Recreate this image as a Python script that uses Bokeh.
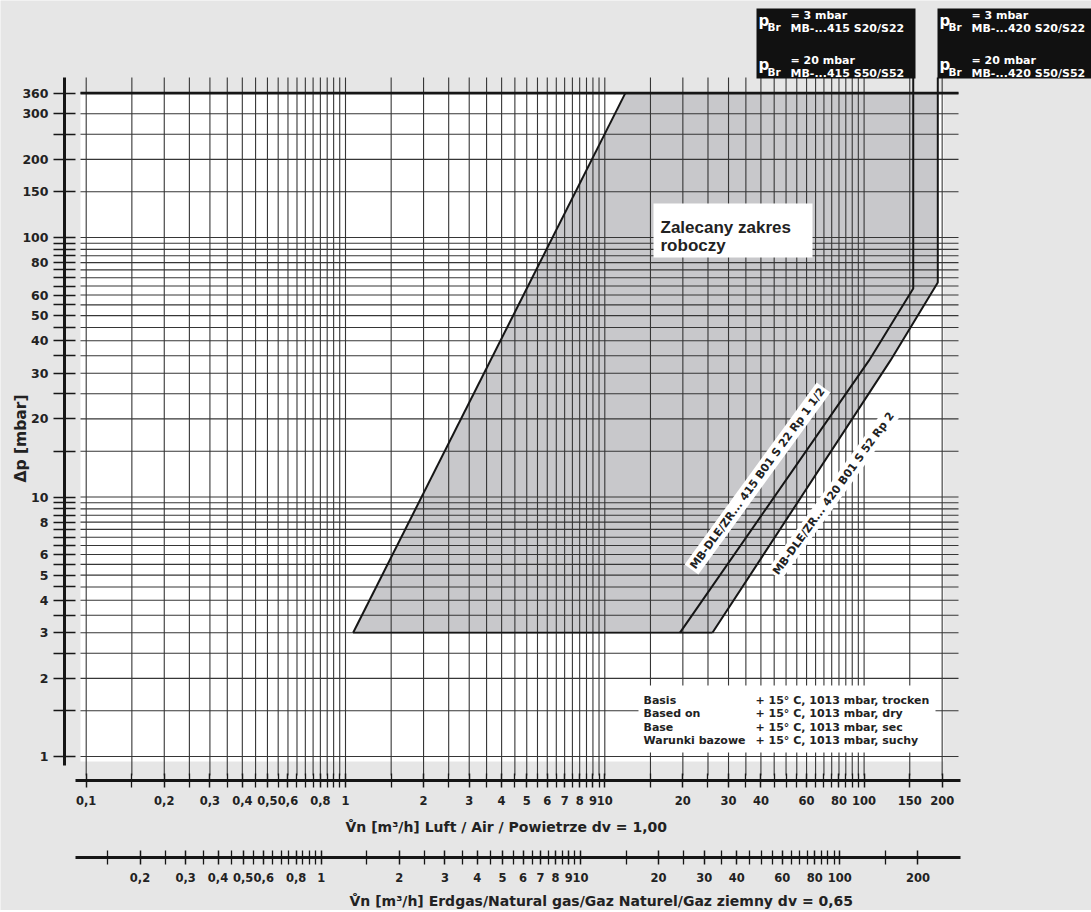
import math
from bokeh.plotting import figure
from bokeh.models import (LogAxis, FixedTicker, CustomJSTickFormatter, Range1d,
                          LogScale, Label, BoxAnnotation, ColumnDataSource)
from bokeh.embed import file_html
from bokeh.resources import INLINE

# ---------------- data ----------------
# flow axis, air (m3/h): labelled ticks and unlabelled ticks / grid lines
x_ticks_labeled = [0.1, 0.2, 0.3, 0.4, 0.5, 0.6, 0.8, 1, 2, 3, 4, 5, 6, 7, 8, 9, 10,
                   20, 30, 40, 60, 80, 100, 150, 200]
x_ticks_minor = [0.15, 0.25, 0.35, 0.45, 0.55, 0.65, 0.7, 0.75, 0.85, 0.9, 0.95,
                 1.5, 2.5, 3.5, 4.5, 5.5, 6.5, 7.5, 8.5, 9.5,
                 15, 25, 35, 45, 50, 55, 65, 70, 75, 85, 90, 95]
# flow axis, natural gas (m3/h)
gas_ticks_labeled = [0.2, 0.3, 0.4, 0.5, 0.6, 0.8, 1, 2, 3, 4, 5, 6, 7, 8, 9, 10,
                     20, 30, 40, 60, 80, 100, 200]
gas_ticks_minor = [0.15, 0.25, 0.35, 0.45, 0.55, 0.65, 0.7, 0.75, 0.85, 0.9, 0.95,
                   1.5, 2.5, 3.5, 4.5, 5.5, 6.5, 7.5, 8.5, 9.5,
                   15, 25, 35, 45, 50, 55, 65, 70, 75, 85, 90, 95, 150]
DV_GAS = 0.65
# pressure drop axis (mbar)
dp_ticks_labeled = [1, 2, 3, 4, 5, 6, 8, 10, 20, 30, 40, 50, 60, 80, 100, 150, 200, 300, 360]
dp_ticks_minor = [1.5, 2.5, 3.5, 4.5, 5.5, 6.5, 7, 7.5, 8.5, 9, 9.5,
                  15, 25, 35, 45, 55, 65, 70, 75, 85, 90, 95, 250]

# recommended working range: left boundary (V air, dp)
v_left = [1.07, 12.0]
dp_left = [3, 360]
# MB-DLE/ZR... 415 B01 S 22 Rp 1 1/2
v_415 = [19.5, 104.5, 154.7, 154.7]
dp_415 = [3, 33.6, 63.6, 360]
# MB-DLE/ZR... 420 B01 S 52 Rp 2
v_420 = [26.0, 126.4, 192.4, 192.4]
dp_420 = [3, 33.6, 67.1, 360]

# ---------------- layout helpers (page pixel -> data / screen) ----------------
W, H = 1091, 910
X_PX1, X_DEC = 345.0, 259.3
Y_PX1, Y_DEC = 756.0, 259.5


def xd(px):
    return 10 ** ((px - X_PX1) / X_DEC)


def yd(py):
    return 10 ** ((Y_PX1 - py) / Y_DEC)


def sx(px):
    return px


def sy(py):
    return H - py


BG = "#e6e6e6"
FILL = "#c8c8cb"
INK = "#161616"
GRID = "#363636"
TXT = "#222222"
FONT = "DejaVu Sans"

p = figure(width=W, height=H, x_axis_type="log", y_axis_type="log",
           x_range=Range1d(xd(0), xd(W)),
           y_range=Range1d(yd(H), yd(0)),
           output_backend="svg", toolbar_location=None,
           background_fill_color=BG, border_fill_color=BG,
           outline_line_color=None,
           min_border_left=0, min_border_right=0,
           min_border_top=0, min_border_bottom=0)
p.xgrid.visible = False
p.ygrid.visible = False

fmt = CustomJSTickFormatter(code="return String(tick).replace('.', ',');")

# ---- white chart area ----
p.quad(left=[xd(80)], right=[xd(943)], bottom=[yd(761)], top=[dp_ticks_labeled[-1]],
       fill_color="white", line_color=None)

# ---- recommended range (gray) ----
p.patch(v_left + v_420[::-1], dp_left + dp_420[::-1], fill_color=FILL, line_color=None)

# ---- grid ----
x_grid = x_ticks_labeled + x_ticks_minor
y_grid = dp_ticks_labeled + dp_ticks_minor
vsrc = ColumnDataSource(dict(x=x_grid, y0=[yd(775)] * len(x_grid), y1=[yd(77)] * len(x_grid)))
p.segment(x0="x", x1="x", y0="y0", y1="y1", source=vsrc, line_color=GRID, line_width=1.1)
hsrc = ColumnDataSource(dict(y=y_grid, x0=[xd(80)] * len(y_grid), x1=[xd(958)] * len(y_grid)))
p.segment(x0="x0", x1="x1", y0="y", y1="y", source=hsrc, line_color=GRID, line_width=1.1)
p.segment(x0=[xd(80)], x1=[xd(958)], y0=[dp_ticks_labeled[-1]], y1=[dp_ticks_labeled[-1]],
          line_color=INK, line_width=2.6)

# ---- boundary lines ----
p.line(v_left, dp_left, line_color=INK, line_width=2)
p.line([v_left[0], v_420[0]], [dp_left[0], dp_420[0]], line_color=INK, line_width=1.8)
p.line(v_415 + [v_415[-1]], dp_415 + [yd(77)], line_color=INK, line_width=2)
p.line(v_420 + [v_420[-1]], dp_420 + [yd(77)], line_color=INK, line_width=2)

# ---- axes (placed at fixed positions inside the full-size frame) ----
yax = p.yaxis[0]
yax.fixed_location = xd(64)
yax.ticker = FixedTicker(ticks=dp_ticks_labeled, minor_ticks=dp_ticks_minor)
yax.formatter = fmt
yax.bounds = (yd(765), yd(77))
yax.axis_line_width = 3
yax.axis_line_color = INK
yax.major_tick_in = 11
yax.major_tick_out = 11
yax.minor_tick_in = 11
yax.minor_tick_out = 11
yax.major_tick_line_width = 1.5
yax.minor_tick_line_width = 1.3
yax.major_tick_line_color = INK
yax.minor_tick_line_color = INK
yax.major_label_standoff = 5
yax.major_label_text_font = FONT
yax.major_label_text_font_style = "bold"
yax.major_label_text_font_size = "12.5px"
yax.major_label_text_color = TXT

xax = p.xaxis[0]
xax.fixed_location = yd(780)
xax.ticker = FixedTicker(ticks=x_ticks_labeled, minor_ticks=x_ticks_minor)
xax.formatter = fmt
xax.bounds = (xd(75), xd(960))

p.extra_x_ranges = {"gas": Range1d(xd(0) / math.sqrt(DV_GAS), xd(W) / math.sqrt(DV_GAS))}
p.extra_x_scales = {"gas": LogScale()}
gax = LogAxis(x_range_name="gas",
              ticker=FixedTicker(ticks=gas_ticks_labeled, minor_ticks=gas_ticks_minor),
              formatter=fmt,
              bounds=(xd(75) / math.sqrt(DV_GAS), xd(960) / math.sqrt(DV_GAS)))
gax.fixed_location = yd(857)

for ax in (xax, gax):
    ax.axis_line_width = 3
    ax.axis_line_color = INK
    ax.major_tick_in = 7
    ax.major_tick_out = 7
    ax.minor_tick_in = 7
    ax.minor_tick_out = 7
    ax.major_tick_line_width = 1.5
    ax.minor_tick_line_width = 1.3
    ax.major_tick_line_color = INK
    ax.minor_tick_line_color = INK
    ax.major_label_standoff = 8
    ax.major_label_text_font = FONT
    ax.major_label_text_font_style = "bold"
    ax.major_label_text_font_size = "11.5px"
    ax.major_label_text_color = TXT
p.add_layout(gax, "below")


# ---- texts ----
def lab(px, py, text, size, align="left", baseline="alphabetic", color=TXT,
        angle=0, bg=None, font=FONT, style="bold", pad=0):
    kw = {}
    if bg is not None:
        kw = dict(background_fill_color=bg, background_fill_alpha=1.0, padding=pad)
    p.add_layout(Label(x=sx(px), y=sy(py), x_units="screen", y_units="screen",
                       text=text, text_font=font, text_font_style=style,
                       text_font_size=size, text_color=color, text_align=align,
                       text_baseline=baseline, angle=angle, angle_units="deg", **kw))


def box(l, t, r, b, color):
    p.add_layout(BoxAnnotation(left=sx(l), right=sx(r), top=sy(t), bottom=sy(b),
                               left_units="screen", right_units="screen",
                               top_units="screen", bottom_units="screen",
                               fill_color=color, fill_alpha=1.0, line_alpha=0))


# axis titles
lab(20, 438, "Δp [mbar]", "15.5px", align="center", baseline="middle", angle=90)
lab(345, 826, "V̊n [m³/h] Luft / Air / Powietrze dv = 1,00", "14px", baseline="middle")
lab(349, 900, "V̊n [m³/h] Erdgas/Natural gas/Gaz Naturel/Gaz ziemny dv = 0,65", "14px",
    baseline="middle")

# recommended range label
box(653, 203, 812, 257, "white")
lab(660, 227, "Zalecany zakres", "17px", font="Liberation Sans")
lab(660, 245, "roboczy", "17px", font="Liberation Sans")

# curve labels
lab(757, 478, "MB-DLE/ZR... 415 B01 S 22 Rp 1 1/2", "11px", align="center",
    baseline="middle", angle=54, bg="white", pad=2)
lab(833, 493, "MB-DLE/ZR... 420 B01 S 52 Rp 2", "11px", align="center",
    baseline="middle", angle=54, bg="white", pad=2)

# reference conditions
box(638, 685, 935, 752, "white")
rows1 = ["Basis", "Based on", "Base", "Warunki bazowe"]
rows2 = ["+ 15° C, 1013 mbar, trocken", "+ 15° C, 1013 mbar, dry",
         "+ 15° C, 1013 mbar, sec", "+ 15° C, 1013 mbar, suchy"]
for i, (a, b) in enumerate(zip(rows1, rows2)):
    yy = 700 + i * 13.3
    lab(643, yy, a, "11px")
    lab(755, yy, b, "11px")

# black header boxes
for (bl, br, name) in [(756, 915, "415"), (937, W, "420")]:
    box(bl, 8, br, 78, "#111111")
    dx = bl - 756
    lab(758 + dx, 20, "p", "15px", color="white")
    lab(767 + dx, 26, "Br", "10.5px", color="white")
    lab(790 + dx, 15, "= 3 mbar", "11px", color="white")
    lab(790 + dx, 28, "MB-..." + name + " S20/S22", "11px", color="white")
    lab(758 + dx, 64, "p", "15px", color="white")
    lab(767 + dx, 71, "Br", "10.5px", color="white")
    lab(790 + dx, 60, "= 20 mbar", "11px", color="white")
    lab(790 + dx, 73, "MB-..." + name + " S50/S52", "11px", color="white")

open("out.html", "w").write(file_html(p, INLINE))
